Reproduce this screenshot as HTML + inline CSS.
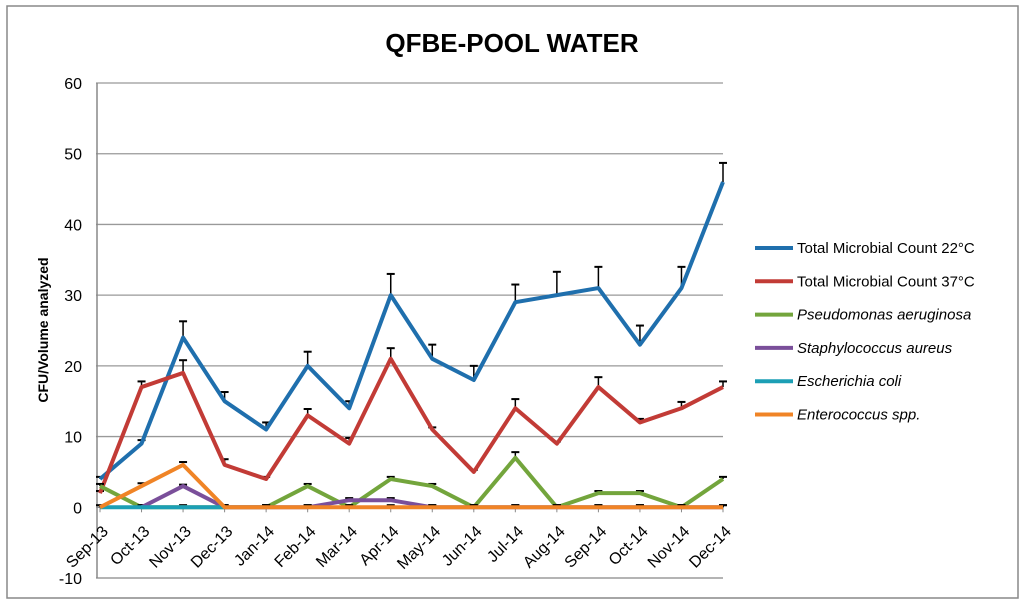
<!DOCTYPE html>
<html><head><meta charset="utf-8"><style>
body{margin:0;background:#fff;width:1024px;height:605px;overflow:hidden}
svg{font-family:"Liberation Sans",sans-serif}
</style></head><body>
<svg id="c" width="1024" height="605">
<rect x="7" y="6" width="1011" height="592" fill="#fff" stroke="#888" stroke-width="1.5"/>
<text x="512" y="52" text-anchor="middle" font-size="26" font-weight="bold">QFBE-POOL WATER</text>
<text transform="translate(48,330) rotate(-90)" text-anchor="middle" font-size="14" font-weight="bold">CFU/Volume analyzed</text>
<g id="grid"></g><g id="marks"></g><g id="legend"></g>
</svg>
<script>
const categories=["Sep-13","Oct-13","Nov-13","Dec-13","Jan-14","Feb-14","Mar-14","Apr-14","May-14","Jun-14","Jul-14","Aug-14","Sep-14","Oct-14","Nov-14","Dec-14"];
const yTicks=[-10,0,10,20,30,40,50,60];
const seriesNames=["Total Microbial Count 22°C","Total Microbial Count  37°C","Pseudomonas aeruginosa","Staphylococcus aureus","Escherichia coli","Enterococcus spp."];
const seriesColors=["#1f6fad","#c23b36","#73a53c","#7a4f9a","#1c9fb5","#f08426"];
const tmc22=[4,9,24,15,11,20,14,30,21,18,29,30,31,23,31,46];
const tmc22Err=[0,0.5,2.3,1.3,1,2,1,3,2,2,2.5,3.3,3,2.7,3,2.7];
const tmc37=[2,17,19,6,4,13,9,21,11,5,14,9,17,12,14,17];
const tmc37Err=[0,0.8,1.8,0.8,0,0.9,0.8,1.5,0,0,1.3,0,1.4,0.5,0.9,0.8];
const pseudo=[3,0,0,0,0,3,0,4,3,0,7,0,2,2,0,4];
const pseudoErr=[0,0,0,0,0,0,0,0,0,0,0.8,0,0,0,0,0.3];
const staph=[null,0,3,0,0,0,1,1,0,0,0,0,0,0,0,0];
const staphErr=[0,0,0.2,0,0,0,0,0,0,0,0,0,0,0,0,0];
const ecoli=[0,0,0,0,null,null,null,null,null,null,null,null,null,null,null,null];
const entero=[0,3,6,0,0,0,0,0,0,0,0,0,0,0,0,0];
const enteroErr=[0,0.4,0.4,0.3,0.3,0.3,0.3,0.3,0.3,0.3,0.3,0.3,0.3,0.3,0.3,0.3];
const NS="http://www.w3.org/2000/svg";
const x0=100,x1=723,yMin=-10,yMax=60,py0=578,py1=83;
const X=i=>x0+(x1-x0)*i/(categories.length-1);
const Y=v=>py0-(v-yMin)*(py0-py1)/(yMax-yMin);
function mk(p,t,a){const e=document.createElementNS(NS,t);for(const k in a)e.setAttribute(k,a[k]);p.appendChild(e);return e;}
const grid=document.getElementById('grid'),marks=document.getElementById('marks'),leg=document.getElementById('legend');
yTicks.forEach(t=>{
 const l=mk(grid,'line',{x1:96,x2:x1,y1:Y(t),y2:Y(t),stroke:t===yMin?'#888':'#999','stroke-width':1.3});
 
 
 const tx=mk(grid,'text',{x:82,y:Y(t)+6,'text-anchor':'end','font-size':16});tx.textContent=t;
 
 
});
const ax=mk(grid,'line',{x1:97,x2:97,y1:py1,y2:py0,stroke:'#888','stroke-width':1.5});


const xa=mk(grid,'line',{x1:97,x2:x1,y1:Y(0),y2:Y(0),stroke:'#888','stroke-width':1.5});


categories.forEach((c,i)=>{
 mk(grid,'line',{x1:X(i),x2:X(i),y1:Y(0),y2:Y(0)+5,stroke:'#888'});
 const t=mk(grid,'text',{transform:`translate(${X(i)+9},${Y(0)+25}) rotate(-45)`,'text-anchor':'end','font-size':16});t.textContent=c;
 
 
});
const data=[tmc22,tmc37,pseudo,staph,ecoli,entero];
const errs=[tmc22Err,tmc37Err,pseudoErr,staphErr,null,enteroErr];
function drawErr(vals,er){vals.forEach((v,i)=>{if(v===null||!er)return;const e=er[i]||0.3;
 const y2=Y(v+e);mk(marks,'line',{x1:X(i),x2:X(i),y1:Y(v),y2:y2,stroke:'#000','stroke-width':1.5});
 mk(marks,'line',{x1:X(i)-4,x2:X(i)+4,y1:y2,y2:y2,stroke:'#000','stroke-width':2});});}
data.forEach((vals,s)=>{
 drawErr(vals,errs[s]);
 let d='',pen=false;vals.forEach((v,i)=>{if(v===null){pen=false;return;}d+=(pen?'L':'M')+X(i)+','+Y(v);pen=true;});
 const p=mk(marks,'path',{d:d,fill:'none',stroke:seriesColors[s],'stroke-width':4,'stroke-linejoin':'round'});
 
 
 const ly=248+s*33.3;
 const ll=mk(leg,'line',{x1:755,x2:793,y1:ly,y2:ly,stroke:seriesColors[s],'stroke-width':4});
 
 
 const lt=mk(leg,'text',{x:797,y:ly+5,'font-size':15,'font-style':s>=2?'italic':'normal'});lt.textContent=seriesNames[s];
 
 
});
</script>
</body></html>
